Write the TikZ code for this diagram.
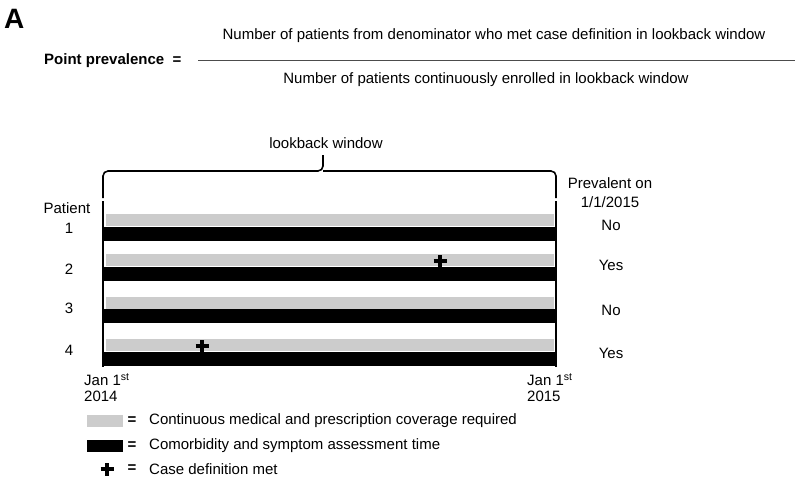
\documentclass[tikz,border=0pt]{standalone}
\usepackage{fontspec}
\setmainfont{Liberation Sans}
\definecolor{barg}{RGB}{204,204,204}
\begin{document}
\begin{tikzpicture}[x=1pt,y=-1pt,
  txt/.style={font=\fontsize{15}{17}\selectfont, inner sep=0pt},
  btxt/.style={font=\fontsize{15}{17}\selectfont\bfseries, inner sep=0pt},
  graybar/.style={fill=barg, draw=none},
  blackbar/.style={fill=black, draw=none},
  plusmark/.style={line width=3.5pt},
  axisline/.style={line width=2pt},
  bracel/.style={line width=1.6pt, rounded corners=5pt}]
\useasboundingbox (0,0) rectangle (800,479);
% Title
\node[font=\fontsize{28}{30}\selectfont\bfseries, inner sep=0pt, anchor=west] (A) at (4,19) {A};
% Formula
\node[btxt, anchor=west] (pp) at (44,61) {Point prevalence};
\node[btxt] (eq) at (177,61) {=};
\coordinate (fl) at (198,60);
\coordinate (fr) at (795,60);
\draw[line width=1pt, black!70] (fl) -- (fr);
\node[txt] (num) at (494,36) {Number of patients from denominator who met case definition in lookback window};
\node[txt] (den) at (486,80) {Number of patients continuously enrolled in lookback window};
% lookback bracket
\node[txt] (lw) at (326,143) {lookback window};
\coordinate (bl) at (103,198);
\coordinate (bm) at (323,171);
\coordinate (bt) at (323,155);
\coordinate (br) at (556,198);
\draw[bracel] (bl) |- (bm) -- (bt);
\draw[bracel] (bm) -| (br);
% axes
\coordinate (la1) at (103,201);
\coordinate (la2) at (103,367);
\coordinate (ra1) at (556,201);
\coordinate (ra2) at (556,367);
\draw[axisline] (la1) -- (la2);
\draw[axisline] (ra1) -- (ra2);
% bars
\foreach \gt/\bt in {214/227, 254/267, 297/309, 339/352} {
  \fill[graybar] (106,\gt) rectangle (554,\gt+12);
  \fill[blackbar] (103,\bt) rectangle (556,\bt+13.5);
}
% plus marks
\coordinate (p2) at (440,261);
\coordinate (p4) at (202,346);
\foreach \p in {p2,p4} {
  \draw[plusmark] ([xshift=-6.5pt]\p) -- ([xshift=6.5pt]\p);
  \draw[plusmark] ([yshift=-6.5pt]\p) -- ([yshift=6.5pt]\p);
}
% left labels
\node[txt] (pat) at (67,208) {Patient};
\node[txt] (n1) at (69,228) {1};
\node[txt] (n2) at (69,269) {2};
\node[txt] (n3) at (69,308) {3};
\node[txt] (n4) at (69,350) {4};
% right labels
\node[txt] (prev) at (610,183) {Prevalent on};
\node[txt] (date) at (610,202) {1/1/2015};
\node[txt] (r1) at (611,225) {No};
\node[txt] (r2) at (611,265) {Yes};
\node[txt] (r3) at (611,310) {No};
\node[txt] (r4) at (611,353) {Yes};
% dates
\node[txt, anchor=west] (j1) at (84,380) {Jan 1\textsuperscript{st}};
\node[txt, anchor=west] (y1) at (84,396) {2014};
\node[txt, anchor=west] (j2) at (527,380) {Jan 1\textsuperscript{st}};
\node[txt, anchor=west] (y2) at (527,396) {2015};
% legend
\fill[graybar] (87,415) rectangle (123,427);
\fill[blackbar] (87,440) rectangle (123,452);
\coordinate (pl) at (107,469);
\draw[plusmark] ([xshift=-6.5pt]pl) -- ([xshift=6.5pt]pl);
\draw[plusmark] ([yshift=-6.5pt]pl) -- ([yshift=6.5pt]pl);
\node[btxt] (e1) at (132,421) {=};
\node[btxt] (e2) at (132,446) {=};
\node[btxt] (e3) at (132,469) {=};
\node[txt, anchor=west] (l1) at (149,421) {Continuous medical and prescription coverage required};
\node[txt, anchor=west] (l2) at (149,446) {Comorbidity and symptom assessment time};
\node[txt, anchor=west] (l3) at (149,469) {Case definition met};
\end{tikzpicture}
\end{document}
